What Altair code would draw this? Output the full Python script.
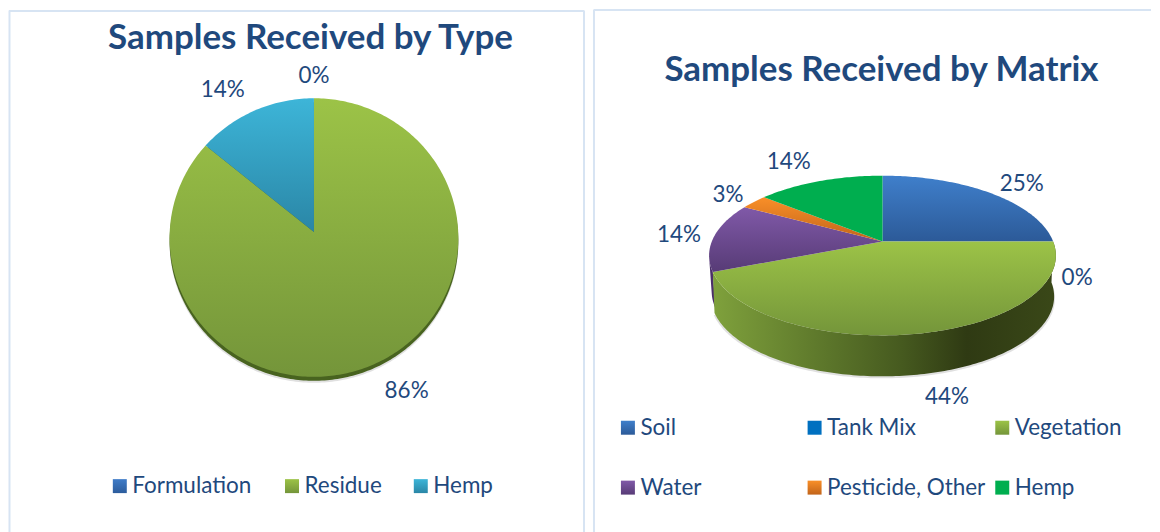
import math
import altair as alt
import pandas as pd

# ---- data
type_names = ["Formulation", "Residue", "Hemp"]
type_values = [0, 86, 14]
matrix_names = ["Soil", "Tank Mix", "Vegetation", "Water", "Pesticide, Other", "Hemp"]
matrix_values = [25, 0, 44, 14, 3, 14]

# ---- styles / layout
W, H = 1152, 532
INK = "#1f497d"
BORDER = "#d7e4f3"
FONT = "Lato"
LEFT = dict(cx=313.5, cy=231, R=144.5, a=139.3, k=0.0394)
RIGHT = dict(cx=883, cy=240.5, R=171, a=77.55, k=0.175)
TYPE_FILL = {"Formulation": ("#3f7cc8", "#2c5c9c"), "Residue": ("#9cc347", "#74953a"), "Hemp": ("#3db5d8", "#2a86a6")}
MATRIX_FILL = {"Soil": ("#3f7fcb", "#2c5a98"), "Tank Mix": ("#0070c0", "#0070c0"), "Vegetation": ("#9cc347", "#74953a"),
               "Water": ("#8059a8", "#573b76"), "Pesticide, Other": ("#f98f28", "#c2641a"), "Hemp": ("#00ae4f", "#00ae4f")}
TYPE_OFFS = {"Formulation": (0, -22), "Residue": (29, 29), "Hemp": (-32, -21)}
MATRIX_OFFS = {"Soil": (32, -9), "Tank Mix": (24, 37), "Vegetation": (26, 64), "Water": (-35, -2),
               "Pesticide, Other": (-26, -7), "Hemp": (-31, -19)}
TYPE_LEG = [("Formulation", 119, 485.5), ("Residue", 291.5, 485.5), ("Hemp", 420.5, 485.5)]
MATRIX_LEG = [("Soil", 628, 427), ("Tank Mix", 815, 427), ("Vegetation", 1003, 427),
              ("Water", 628, 487), ("Pesticide, Other", 815, 487), ("Hemp", 1003, 487)]

xs = alt.Scale(domain=[8, W], range=[0, W - 8], nice=False, zero=False)
ys = alt.Scale(domain=[8, H], range=[0, H - 8], nice=False, zero=False)
X = lambda f="x": alt.X(f"{f}:Q", scale=xs, axis=None)
Y = lambda f="y": alt.Y(f"{f}:Q", scale=ys, axis=None)


def proj(theta, g, dy=0.0, sx=1.0):
    u, v = math.sin(math.radians(theta)), math.cos(math.radians(theta))
    w = 1 + g["k"] * v
    return g["cx"] + sx * g["R"] * u / w, g["cy"] - g["a"] * v / w + dy


def grad(c1, c2, vertical=True):
    return alt.LinearGradient(gradient="linear", stops=[alt.GradientStop(color=c1, offset=0), alt.GradientStop(color=c2, offset=1)],
                              x1=0, x2=0 if vertical else 1, y1=0, y2=1 if vertical else 0)


def poly(points, fill, **kw):
    df = pd.DataFrame(points, columns=["x", "y"]).assign(i=range(len(points)))
    style = dict(fill=fill, stroke="transparent", strokeWidth=0)
    style.update(kw)
    return alt.Chart(df).mark_line(**style).encode(x=X(), y=Y(), order=alt.Order("i:Q"))


def arc_pts(t0, t1, g, dy=0.0, sx=1.0, step=1.0):
    n = max(1, int(abs(t1 - t0) / step))
    return [proj(t0 + (t1 - t0) * j / n, g, dy, sx) for j in range(n + 1)]


def slices(names, values, g, fills):
    out, mids, start = [], {}, 0.0
    for nm, val in zip(names, values):
        t0, t1 = start * 3.6, (start + val) * 3.6
        mids[nm] = proj((t0 + t1) / 2, g)
        if val > 0:
            c1, c2 = fills[nm]
            out.append(poly([(g["cx"], g["cy"])] + arc_pts(t0, t1, g), grad(c1, c2)))
        start += val
    return out, mids


def labels(names, values, mids, offs):
    out = []
    for nm, val in zip(names, values):
        df = pd.DataFrame({"x": [mids[nm][0] + offs[nm][0]], "y": [mids[nm][1] + offs[nm][1]], "t": [f"{val}%"]})
        out.append(alt.Chart(df).mark_text(font=FONT, fontSize=22.5, color=INK, align="center", baseline="middle")
                   .encode(x=X(), y=Y(), text="t:N"))
    return out


def legend(items, fills):
    out = []
    for nm, x0, y0 in items:
        c1, c2 = fills[nm]
        df = pd.DataFrame({"x": [x0], "y": [y0], "t": [nm], "tx": [x0 + 12.5]})
        out.append(alt.Chart(df).mark_square(size=196, opacity=1, fill=grad(c1, c2), stroke="transparent", strokeWidth=0).encode(x=X(), y=Y()))
        out.append(alt.Chart(df).mark_text(font=FONT, fontSize=22.5, color=INK, align="left", baseline="middle")
                   .encode(x=X("tx"), y=Y(), text="t:N"))
    return out


def rule_v(x, y0, y1):
    df = pd.DataFrame({"x": [x], "y": [y0], "y2": [y1]})
    return alt.Chart(df).mark_rule(color=BORDER, strokeWidth=2).encode(x=X(), y=Y(), y2="y2:Q")


def rule_h(y, x0, x1):
    df = pd.DataFrame({"x": [x0], "x2": [x1], "y": [y]})
    return alt.Chart(df).mark_rule(color=BORDER, strokeWidth=2).encode(x=X(), x2="x2:Q", y=Y())


def title(text, x, y):
    df = pd.DataFrame({"x": [x], "y": [y], "t": [text]})
    return alt.Chart(df).mark_text(font=FONT, fontSize=35, fontWeight="bold", color=INK, align="center", baseline="middle").encode(x=X(), y=Y(), text="t:N")


layers = [rule_v(8.5, 9, H), rule_v(584, 9, H), rule_h(9.5, 8, 584), rule_v(594, 8, H), rule_h(8.5, 594, W)]

# left pie: thin rim
layers.append(poly(arc_pts(0, 360, LEFT, dy=6), "#000000", opacity=0.12))
layers.append(poly(arc_pts(0, 360, LEFT, dy=4), "#48631f"))
s, m = slices(type_names, type_values, LEFT, TYPE_FILL)
layers += s + labels(type_names, type_values, m, TYPE_OFFS)
layers += legend(TYPE_LEG, TYPE_FILL)
layers.append(title("Samples Received by Type", 310, 37))

# right pie: extruded wall
veg_start, veg_end = 25 * 3.6, 69 * 3.6
top_rim = arc_pts(veg_start, veg_end, RIGHT)
bot_rim = arc_pts(veg_end, veg_start, RIGHT, dy=41, sx=0.99)
layers.append(poly(arc_pts(veg_start, veg_end, RIGHT, dy=43, sx=0.995), "#000000", opacity=0.12))
layers.append(poly(arc_pts(veg_end, 258, RIGHT) + arc_pts(258, veg_end, RIGHT, dy=36, sx=0.985), "#4b2f6a"))
wall_grad = alt.LinearGradient(gradient="linear", x1=0, x2=1, y1=0, y2=0, stops=[
    alt.GradientStop(color="#7fa13c", offset=0), alt.GradientStop(color="#5f7a2c", offset=0.3),
    alt.GradientStop(color="#465a1f", offset=0.55), alt.GradientStop(color="#2f3a13", offset=0.74),
    alt.GradientStop(color="#3a4818", offset=1)])
layers.append(poly(top_rim + bot_rim, wall_grad))
s, m = slices(matrix_names, matrix_values, RIGHT, MATRIX_FILL)
layers += s + labels(matrix_names, matrix_values, m, MATRIX_OFFS)
layers += legend(MATRIX_LEG, MATRIX_FILL)
layers.append(title("Samples Received by Matrix", 882, 69))

chart = alt.layer(*layers).properties(width=W - 8, height=H - 8, padding=0, background="white").configure_view(stroke=None)
chart.save("out.html", embed_options={"renderer": "svg", "actions": False})
